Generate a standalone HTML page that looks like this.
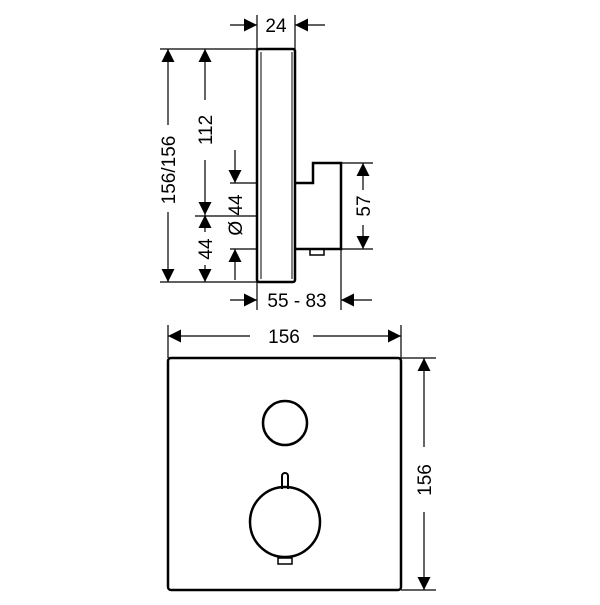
<!DOCTYPE html>
<html><head><style>body{margin:0;background:#fff}</style></head><body>
<svg width="600" height="600" viewBox="0 0 600 600" xmlns="http://www.w3.org/2000/svg">
<defs>
<marker id="a" viewBox="0 0 10 10" refX="10" refY="5" markerWidth="13" markerHeight="13" markerUnits="userSpaceOnUse" orient="auto"><path d="M0,0L10,5L0,10z" fill="#000"/></marker>
</defs>
<g fill="none" stroke="#000">
<rect x="257" y="49" width="38" height="233" rx="2" stroke-width="2.5"/>
<line x1="261" y1="52" x2="261" y2="279" stroke-width="1"/>
<line x1="292" y1="52" x2="292" y2="279" stroke-width="1"/>
<path d="M295 183H313V163H341V249H295" stroke-width="2.5"/>
<rect x="310" y="249" width="14" height="6" stroke-width="1.5"/>
<g stroke-width="1.2">
<line x1="257" y1="15" x2="257" y2="49"/><line x1="295" y1="15" x2="295" y2="49"/>
<line x1="230" y1="25" x2="257" y2="25" marker-end="url(#a)"/><line x1="325" y1="25" x2="295" y2="25" marker-end="url(#a)"/>
<line x1="160" y1="49" x2="257" y2="49"/><line x1="160" y1="282" x2="257" y2="282"/>
<line x1="168" y1="125" x2="168" y2="49" marker-end="url(#a)"/><line x1="168" y1="212" x2="168" y2="282" marker-end="url(#a)"/>
<line x1="205" y1="100" x2="205" y2="49" marker-end="url(#a)"/><line x1="205" y1="160" x2="205" y2="215" marker-end="url(#a)"/>
<line x1="205" y1="232" x2="205" y2="215" marker-end="url(#a)"/><line x1="205" y1="265" x2="205" y2="282" marker-end="url(#a)"/>
<line x1="195" y1="216" x2="257" y2="216"/>
<line x1="230" y1="183" x2="257" y2="183"/><line x1="230" y1="249" x2="257" y2="249"/>
<line x1="235" y1="150" x2="235" y2="183" marker-end="url(#a)"/><line x1="235" y1="280" x2="235" y2="249" marker-end="url(#a)"/>
<line x1="341" y1="163" x2="373" y2="163"/><line x1="341" y1="249" x2="373" y2="249"/>
<line x1="363" y1="190" x2="363" y2="163" marker-end="url(#a)"/><line x1="363" y1="225" x2="363" y2="249" marker-end="url(#a)"/>
<line x1="341" y1="249" x2="341" y2="310"/><line x1="257" y1="282" x2="257" y2="310"/>
<line x1="230" y1="300" x2="257" y2="300" marker-end="url(#a)"/><line x1="372" y1="300" x2="341" y2="300" marker-end="url(#a)"/>
</g>
<rect x="168" y="358" width="233" height="232" rx="3" stroke-width="2.5"/>
<circle cx="285" cy="423" r="22" stroke-width="2.5"/>
<circle cx="285" cy="522" r="35" stroke-width="2.5"/>
<path d="M282 489V476a3 3 0 0 1 6 0V489" stroke-width="2"/>
<rect x="278" y="558" width="14" height="6" stroke-width="1.5"/>
<g stroke-width="1.2">
<line x1="168" y1="325" x2="168" y2="358"/><line x1="401" y1="325" x2="401" y2="358"/>
<line x1="250" y1="336" x2="168" y2="336" marker-end="url(#a)"/><line x1="313" y1="336" x2="401" y2="336" marker-end="url(#a)"/>
<line x1="401" y1="358" x2="436" y2="358"/><line x1="401" y1="590" x2="436" y2="590"/>
<line x1="424" y1="447" x2="424" y2="358" marker-end="url(#a)"/><line x1="424" y1="512" x2="424" y2="590" marker-end="url(#a)"/>
</g>
</g>
<g font-family="Liberation Sans, sans-serif" font-size="19" fill="#000" text-anchor="middle">
<text x="276" y="32">24</text>
<text x="297" y="307">55 - 83</text>
<text x="284" y="343">156</text>
<text transform="translate(175,170) rotate(-90)">156/156</text>
<text transform="translate(212,130) rotate(-90)">112</text>
<text transform="translate(212,249) rotate(-90)">44</text>
<text transform="translate(242,215) rotate(-90)">Ø 44</text>
<text transform="translate(370,206) rotate(-90)">57</text>
<text transform="translate(431,480) rotate(-90)">156</text>
</g>
</svg>
</body></html>
